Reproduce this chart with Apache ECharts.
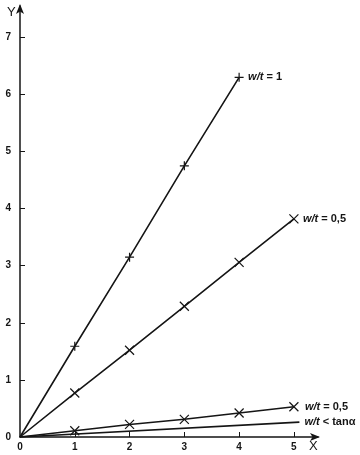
<!DOCTYPE html>
<html><head><meta charset="utf-8">
<script src="https://cdn.jsdelivr.net/npm/echarts@6/dist/echarts.min.js"></script>
<style>html,body{margin:0;padding:0;background:#fff}#c{width:360px;height:455px}</style>
</head><body><div id="c"></div>
<script>
const xTicks = [1, 2, 3, 4, 5];
const xLabels = [0, 1, 2, 3, 4, 5];
const yTicks = [1, 2, 3, 4, 5, 6, 7];
const yLabels = [0, 1, 2, 3, 4, 5, 6, 7];

const upperX = [0, 1, 2, 3, 4];
const upperY = [0, 1.59, 3.15, 4.75, 6.3];
const middleX = [0, 1, 2, 3, 4, 5];
const middleY = [0, 0.77, 1.52, 2.29, 3.06, 3.82];
const lowerX = [0, 1, 2, 3, 4, 5];
const lowerY = [0, 0.11, 0.22, 0.31, 0.42, 0.53];
const tanX = [0, 5.1];
const tanY = [0, 0.26];

const labelUpper = ['w/t', ' = 1'];
const labelMiddle = ['w/t', ' = 0,5'];
const labelLower = ['w/t', ' = 0,5'];
const labelTan = ['w/t', ' < tanα'];

const INK = '#151515';
const plusSym = 'path://M0,5L10,5M5,0L5,10';
const crossSym = 'path://M1,2L9,8M9,2L1,8';

function pairs(xs, ys) { return xs.map((x, i) => [x, ys[i]]); }

const rich = {
  i: { fontStyle: 'italic', fontWeight: 'bold', fontSize: 11, color: INK, fontFamily: 'Liberation Sans' },
  n: { fontWeight: 'bold', fontSize: 11, color: INK, fontFamily: 'Liberation Sans' }
};

function mkSeries(xs, ys, sym, parts, dist) {
  const data = pairs(xs, ys).map((p, i) => {
    const d = { value: p };
    if (i === 0) d.symbol = 'none';
    return d;
  });
  return {
    type: 'line', data: data, symbol: sym, symbolSize: 9, showSymbol: sym !== 'none',
    lineStyle: { color: INK, width: 1.6 },
    itemStyle: { color: INK, borderColor: INK, borderWidth: 1.2 },
    endLabel: { show: true, distance: dist, formatter: '{i|' + parts[0] + '}{n|' + parts[1] + '}', rich: rich },
    emphasis: { disabled: true }, animation: false, z: 3
  };
}

const chart = echarts.init(document.getElementById('c'), null, { renderer: 'canvas' });
chart.setOption({
  animation: false,
  grid: { left: 20, right: 42, top: 6, bottom: 18 },
  xAxis: {
    type: 'value', min: 0, max: 5.44, interval: 1,
    splitLine: { show: false },
    axisLine: { lineStyle: { color: INK, width: 1.5 }, symbol: ['none', 'arrow'], symbolSize: [6, 10], symbolOffset: [0, 2] },
    axisTick: { inside: true, length: 5, lineStyle: { color: INK, width: 1 }, customValues: xTicks },
    axisLabel: { margin: 5, color: INK, fontSize: 10, fontWeight: 'bold', fontFamily: 'Liberation Sans', customValues: xLabels, formatter: v => String(v) }
  },
  yAxis: {
    type: 'value', min: 0, max: 7.55, interval: 1,
    splitLine: { show: false },
    axisLine: { lineStyle: { color: INK, width: 1.5 }, symbol: ['none', 'arrow'], symbolSize: [6, 10], symbolOffset: [0, 2] },
    axisTick: { inside: true, length: 5, lineStyle: { color: INK, width: 1 }, customValues: yTicks },
    axisLabel: { margin: 9, color: INK, fontSize: 10, fontWeight: 'bold', fontFamily: 'Liberation Sans', customValues: yLabels, formatter: v => String(v) }
  },
  graphic: [
    { type: 'text', left: 7, top: 6, style: { text: 'Y', fontSize: 13, fill: INK, fontFamily: 'Liberation Sans' } },
    { type: 'text', left: 309, top: 440, style: { text: 'X', fontSize: 13, fill: INK, fontFamily: 'Liberation Sans' } }
  ],
  series: [
    mkSeries(upperX, upperY, plusSym, labelUpper, 9),
    mkSeries(middleX, middleY, crossSym, labelMiddle, 9),
    mkSeries(lowerX, lowerY, crossSym, labelLower, 11),
    mkSeries(tanX, tanY, 'none', labelTan, 5)
  ]
});
</script></body></html>
